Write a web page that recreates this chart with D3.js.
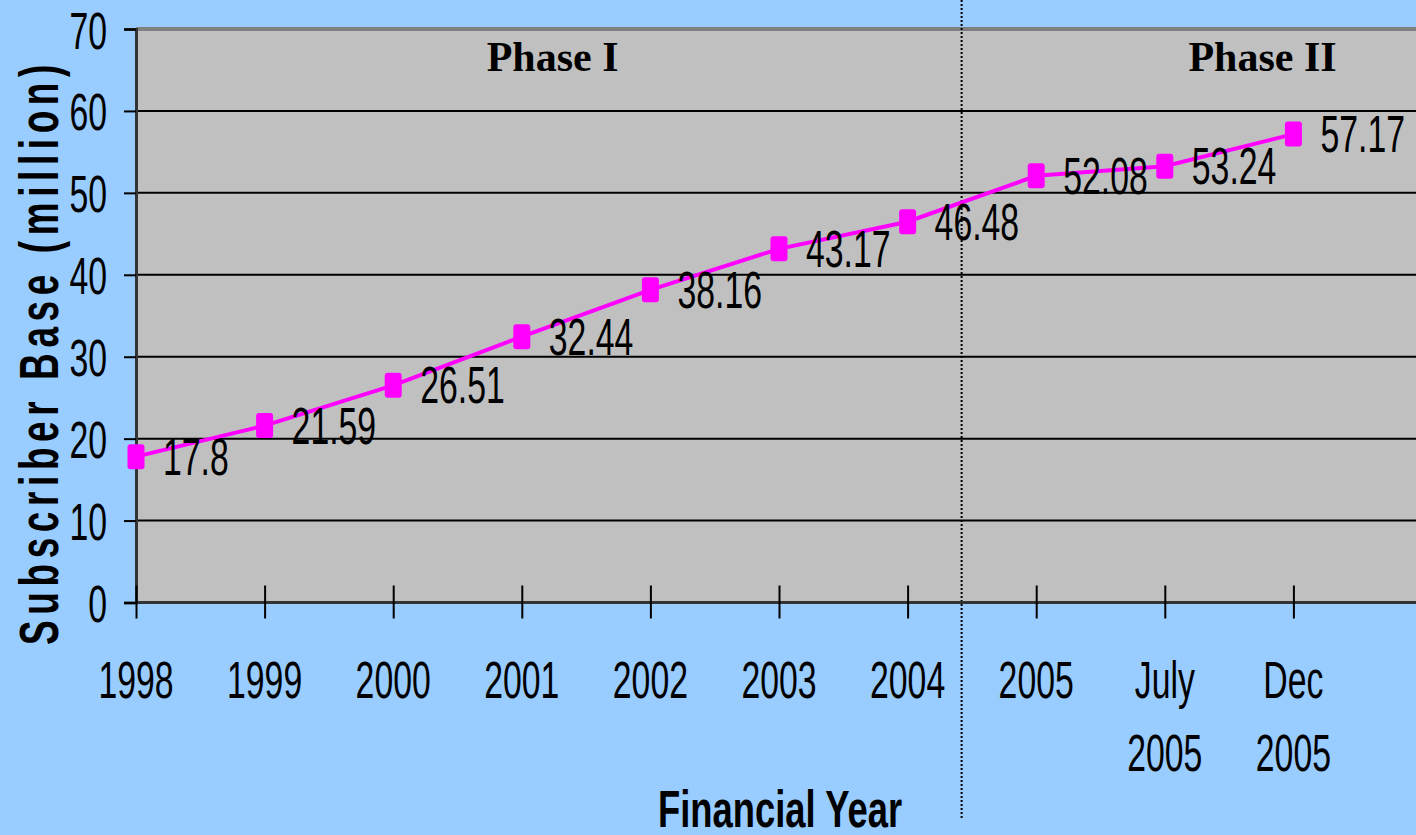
<!DOCTYPE html>
<html>
<head>
<meta charset="utf-8">
<script src="https://cdn.jsdelivr.net/npm/d3@7"></script>
<style>
  html, body { margin: 0; padding: 0; background: #99ccff; }
  svg { display: block; }
  text { font-family: 'Liberation Sans', Arial, sans-serif; fill: #000; }
</style>
</head>
<body>
<svg id="chart" width="1416" height="835"></svg>
<script>
'use strict'

// data
var categories = ['1998', '1999', '2000', '2001', '2002', '2003', '2004', '2005', 'July 2005', 'Dec 2005']
var subscribers = [17.8, 21.59, 26.51, 32.44, 38.16, 43.17, 46.48, 52.08, 53.24, 57.17]
var yTicks = [0, 10, 20, 30, 40, 50, 60, 70]
var phaseLabels = ['Phase I', 'Phase II']

var width = 1416
var plotLeft = 136
var plotTop = 29
var plotBottom = 602.5
var step = 128.6
var narrow = 0.65 // the chart's font is a squeezed Arial

var svg = d3.select('#chart')

var x = d3.scalePoint()
  .domain(categories)
  .range([plotLeft, plotLeft + step * (categories.length - 1)])

var y = d3.scaleLinear()
  .domain([0, 70])
  .range([plotBottom, plotTop])

// position in category steps, so things between ticks still go through x
function xAt (i) {
  return x(categories[0]) + i * x.step()
}

// plot area
svg.append('rect')
  .attr('x', plotLeft)
  .attr('y', y(70))
  .attr('width', width - plotLeft)
  .attr('height', y(0) - y(70))
  .attr('fill', '#c0c0c0')

// gridlines
svg.append('g')
  .selectAll('line')
  .data(yTicks.filter((d) => d > 0 && d < 70))
  .enter().append('line')
    .attr('x1', plotLeft)
    .attr('x2', width)
    .attr('y1', (d) => y(d))
    .attr('y2', (d) => y(d))
    .attr('stroke', '#000')
    .attr('stroke-width', 2)

// grey top border of the plot
svg.append('line')
  .attr('x1', plotLeft)
  .attr('x2', width)
  .attr('y1', y(70))
  .attr('y2', y(70))
  .attr('stroke', '#808080')
  .attr('stroke-width', 4)

// phase divider
var divider = xAt(6.42)
svg.append('line')
  .attr('x1', divider)
  .attr('x2', divider)
  .attr('y1', 0)
  .attr('y2', 818)
  .attr('stroke', '#000')
  .attr('stroke-width', 2)
  .attr('stroke-dasharray', '2,2')

// phase labels
svg.append('g')
  .selectAll('text')
  .data(phaseLabels)
  .enter().append('text')
    .attr('x', (d, i) => xAt(i === 0 ? 3.24 : 8.76))
    .attr('y', 71)
    .attr('text-anchor', 'middle')
    .style('font-family', "'Liberation Serif', 'Times New Roman', serif")
    .style('font-weight', 'bold')
    .style('font-size', '42px')
    .text((d) => d)

// y axis
var yAxis = svg.append('g')
  .attr('transform', `translate(${plotLeft},0)`)
  .call(d3.axisLeft(y).tickValues(yTicks).tickSize(12))

yAxis.select('.domain')
  .attr('stroke', '#333')
  .attr('stroke-width', 3)
yAxis.selectAll('.tick line')
  .attr('stroke', '#000')
  .attr('stroke-width', 2)
yAxis.selectAll('.tick text')
  .attr('x', 0)
  .attr('dy', null)
  .attr('transform', `translate(-29,19) scale(${narrow},1)`)
  .attr('text-anchor', 'end')
  .style('font-family', "'Liberation Sans', Arial, sans-serif")
  .style('font-size', '52px')

// x axis
var xAxis = svg.append('g')
  .attr('transform', `translate(0,${plotBottom})`)
  .call(d3.axisBottom(x).tickSize(16).tickFormat(''))

xAxis.select('.domain')
  .attr('d', `M${plotLeft},0H${width}`)
  .attr('stroke', '#333')
  .attr('stroke-width', 3)
xAxis.selectAll('.tick line')
  .attr('y1', -17)
  .attr('y2', 16)
  .attr('stroke', '#000')
  .attr('stroke-width', 2)
xAxis.selectAll('.tick text').remove()

var xLabels = svg.append('g')
  .selectAll('g')
  .data(categories)
  .enter().append('g')
    .attr('transform', (d) => `translate(${x(d)},0)`)

xLabels.selectAll('text')
  .data((d) => d.split(' '))
  .enter().append('text')
    .attr('transform', (d, i) => `translate(0,${698 + i * 73}) scale(${narrow},1)`)
    .attr('text-anchor', 'middle')
    .style('font-size', '52px')
    .text((d) => d)

// series line
var line = d3.line()
  .x((d, i) => x(categories[i]))
  .y((d) => y(d))

svg.append('path')
  .datum(subscribers)
  .attr('d', line)
  .attr('fill', 'none')
  .attr('stroke', '#ff00ff')
  .attr('stroke-width', 4)

svg.append('g')
  .selectAll('rect')
  .data(subscribers)
  .enter().append('rect')
    .attr('x', (d, i) => x(categories[i]) - 8.5)
    .attr('y', (d) => y(d) - 12.5)
    .attr('width', 17)
    .attr('height', 25)
    .attr('rx', 3)
    .attr('fill', '#ff00ff')

// value labels
svg.append('g')
  .selectAll('text')
  .data(subscribers)
  .enter().append('text')
    .attr('transform', (d, i) => `translate(${x(categories[i]) + 27},${y(d) + 18}) scale(${narrow},1)`)
    .style('font-size', '52px')
    .text((d) => d)

// axis titles
svg.append('text')
  .attr('transform', 'translate(58,352) rotate(-90) scale(0.66,1)')
  .attr('text-anchor', 'middle')
  .style('font-weight', 'bold')
  .style('font-size', '56px')
  .style('letter-spacing', '8.5px')
  .text('Subscriber Base (million)')

svg.append('text')
  .attr('transform', 'translate(780,827) scale(0.7,1)')
  .attr('text-anchor', 'middle')
  .style('font-weight', 'bold')
  .style('font-size', '52px')
  .text('Financial Year')
</script>
</body>
</html>
